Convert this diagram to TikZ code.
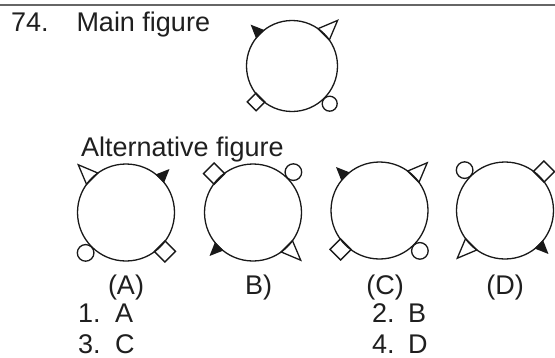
\documentclass[tikz,border=0pt]{standalone}
\usepackage{fontspec}
\setmainfont{Liberation Sans}
\begin{document}
\begin{tikzpicture}[x=1bp,y=1bp,
  ink/.style={draw=black!90, line width=1.3bp},
  lbl/.style={inner sep=0pt, outer sep=0pt, text=black!88, font=\fontsize{27.1}{32}\selectfont}]
\useasboundingbox (0,0) rectangle (555,357);
\fill[white] (0,0) rectangle (555,357);
% shape macros: #1 centre, #2 radius, #3 angle
\newcommand\filltri[3]{\fill[black!90,shift={(#1)},rotate=#3] (#2-0.8,6) -- (#2+13,0) -- (#2-0.8,-6) -- cycle;}
\newcommand\opentri[3]{\draw[ink,line join=miter,shift={(#1)},rotate=#3] (#2-0.7,8) -- (#2+19,0) -- (#2-0.7,-8) -- cycle;}
\newcommand\diam[4]{\draw[ink,shift={(#1)},rotate=#3] (#2-1,#4/2) -- (#2-1+#4,#4/2) -- (#2-1+#4,-#4/2) -- (#2-1,-#4/2) -- cycle;}
\newcommand\smallc[4]{\draw[ink,shift={(#1)},rotate=#3] (#2+#4+0.3,0) circle[radius=#4];}
% top rule
\coordinate (rl) at (0,352);
\coordinate (rr) at (555,352);
\draw[black!60, line width=1.4bp] (rl) -- (rr);
% texts
\node[lbl, anchor=base west] (num) at (11,325.3) {74.};
\node[lbl, anchor=base west] (mainlbl) at (76.5,325.3) {Main figure};
\node[lbl, anchor=base west] (altlbl) at (81,200.3) {Alternative figure};
\node[lbl, anchor=base] (la) at (126,62.7) {(A)};
\node[lbl, anchor=base] (lb) at (258.5,62.7) {B)};
\node[lbl, anchor=base] (lc) at (385,62.7) {(C)};
\node[lbl, anchor=base] (ld) at (505,62.7) {(D)};
\node[lbl, anchor=base west] (o1) at (78,34.3) {1.};
\node[lbl, anchor=base west] (o1a) at (115,34.3) {A};
\node[lbl, anchor=base west] (o2) at (372,34.3) {2.};
\node[lbl, anchor=base west] (o2a) at (408,34.3) {B};
\node[lbl, anchor=base west] (o3) at (78,3.6) {3.};
\node[lbl, anchor=base west] (o3a) at (115,3.6) {C};
\node[lbl, anchor=base west] (o4) at (372,3.6) {4.};
\node[lbl, anchor=base west] (o4a) at (408,3.6) {D};
% main figure
\coordinate (M) at (292,291);
\draw[ink] (M) circle[radius=45.5];
\filltri{M}{45.5}{135}
\opentri{M}{45.5}{45}
\diam{M}{45.5}{225}{12.5}
\smallc{M}{45.5}{315}{7.5}
% A
\coordinate (A) at (126,144.5);
\draw[ink] (A) circle[radius=48.5];
\opentri{A}{48.5}{135}
\filltri{A}{48.5}{45}
\smallc{A}{48.5}{225}{8.3}
\diam{A}{48.5}{315}{15}
% B
\coordinate (B) at (253,144.5);
\draw[ink] (B) circle[radius=48.5];
\diam{B}{48.5}{135}{15}
\smallc{B}{48.5}{45}{8.3}
\filltri{B}{48.5}{225}
\opentri{B}{48.5}{315}
% C
\coordinate (C) at (379.5,146.5);
\draw[ink] (C) circle[radius=48.5];
\filltri{C}{48.5}{135}
\opentri{C}{48.5}{45}
\diam{C}{48.5}{225}{15}
\smallc{C}{48.5}{315}{8.3}
% D
\coordinate (D) at (505,146.5);
\draw[ink] (D) circle[radius=48.5];
\smallc{D}{48.5}{135}{8.3}
\diam{D}{48.5}{45}{15}
\opentri{D}{48.5}{225}
\filltri{D}{48.5}{315}
\end{tikzpicture}
\end{document}
